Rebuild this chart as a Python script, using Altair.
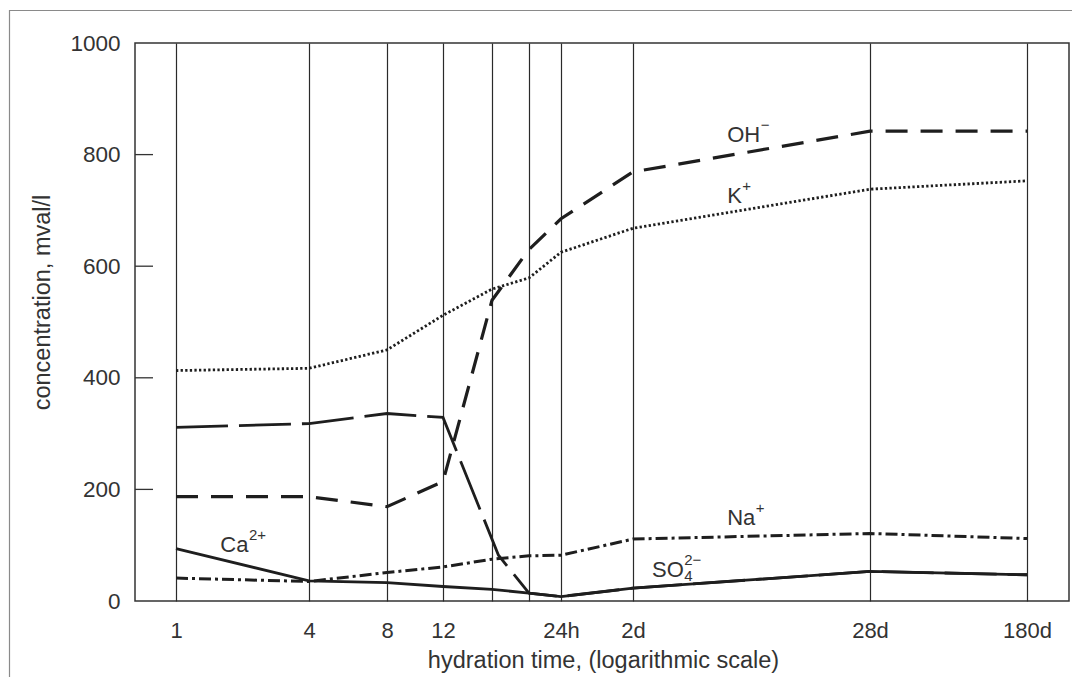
import altair as alt
import pandas as pd

# ---------------- data ----------------
hours = [1, 4, 8, 12, 16, 20, 24, 48, 672, 4320]
oh_vals = [187, 187, 169, 214, 539, 630, 685, 769, 842, 842]
k_vals = [413, 417, 450, 512, 559, 579, 625, 668, 738, 753]
na_vals = [41, 35, 51, 61, 75, 81, 82, 111, 121, 112]
ca_vals = [94, 36, 33, 26, 21, 14, 8, 23, 53, 47]
so4_hours = [1, 4, 8, 12, 16.7, 20, 24, 48, 672, 4320]
so4_vals = [311, 318, 336, 329, 82, 14, 8, 23, 53, 47]

tick_hours = [1, 4, 8, 12, 16, 20, 24, 48, 672, 4320]
tick_labels = ["1", "4", "8", "12", "", "", "24h", "2d", "28d", "180d"]
y_ticks = [0, 200, 400, 600, 800, 1000]
inner_ticks = [200, 400, 600, 800]

label_base = ["OH", "K", "Na", "SO", "Ca"]
label_sup = ["\u2212", "+", "+", "2\u2212", "2+"]
label_sub = ["", "", "", "4", ""]
label_hours = [296, 296, 296, 98, 2.0]
label_values = [823, 713, 136, 43, 88]

# ---------------- styling ----------------
FONT = "Liberation Sans, Arial, sans-serif"
INK = "#1e1e1e"
TXT = "#333"
W, H = 934, 558
LFS = 22      # ion label font size
SFS = 15      # super/subscript font size
# Arial advance widths (em) of the glyphs used in the ion labels
GLYPH_W = {"O": 0.778, "H": 0.722, "K": 0.667, "N": 0.722, "a": 0.556,
           "C": 0.722, "S": 0.667}

# non-uniform ("logarithmic") time axis of the original figure, piecewise linear
x_scale = alt.Scale(
    type="linear",
    domain=[0] + tick_hours + [5500],
    range=[0, 41, 174, 252, 308, 357, 394, 426, 498, 735, 892, W],
    nice=False,
    zero=False,
)
y_scale = alt.Scale(domain=[0, 1000], nice=False)

label_expr = " : ".join(
    f"datum.value == {h} ? '{t}'" for h, t in zip(tick_hours, tick_labels)
) + " : ''"

x_axis = alt.Axis(
    values=tick_hours,
    labelExpr=label_expr,
    grid=True,
    gridColor="#2a2a2a",
    gridWidth=1.2,
    ticks=False,
    tickSize=0,
    domain=False,
    labelFont=FONT,
    labelFontSize=22,
    labelColor=TXT,
    labelPadding=36,
    labelBaseline="alphabetic",
    labelFlush=False,
    labelOverlap=False,
    title="hydration time, (logarithmic scale)",
    titleFont=FONT,
    titleFontSize=23.5,
    titleFontWeight="normal",
    titleColor=TXT,
    titleX=468,
    titleY=66,
    titleAlign="center",
    titleBaseline="alphabetic",
)
y_axis = alt.Axis(
    values=y_ticks,
    format="d",
    grid=False,
    ticks=False,
    tickSize=0,
    domain=False,
    labelFont=FONT,
    labelFontSize=22.5,
    labelColor=TXT,
    labelPadding=15,
    labelBaseline="middle",
    labelFlush=False,
    title="concentration, mval/l",
    titleFont=FONT,
    titleFontSize=23.5,
    titleFontWeight="normal",
    titleColor=TXT,
    titleX=-93,
    titleY=259,
    titleAlign="center",
    titleBaseline="middle",
)

X = alt.X("hour:Q", scale=x_scale, axis=x_axis)
Y = alt.Y("value:Q", scale=y_scale, axis=y_axis)


def series(h, v, name):
    return pd.DataFrame({"hour": h, "value": v, "ion": name})


def line_layer(df, dash, width):
    kw = dict(color=INK, strokeWidth=width, strokeCap="butt", strokeJoin="miter")
    if dash:
        kw["strokeDash"] = dash
    return alt.Chart(df).mark_line(**kw).encode(x=X, y=Y)


ca_line = line_layer(series(hours, ca_vals, "Ca"), None, 2.8)
so4_line = line_layer(series(so4_hours, so4_vals, "SO4"), [52, 11], 2.8)
na_line = line_layer(series(hours, na_vals, "Na"), [12, 4, 3, 4], 3)
k_line = line_layer(series(hours, k_vals, "K"), [2.3, 2.3], 2.8)
oh_line = line_layer(series(hours, oh_vals, "OH"), [22, 13], 3.2)

# inner tick marks on the y axis
tick_layer = alt.Chart(pd.DataFrame({"value": inner_ticks})).mark_rule(
    color="#333", strokeWidth=1.3
).encode(
    x=alt.value(0),
    x2=alt.value(18),
    y=Y,
)

# ion labels: base text + superscript + subscript
label_layers = []
for base, sup, sub, h, v in zip(label_base, label_sup, label_sub, label_hours, label_values):
    df = pd.DataFrame({"hour": [h], "value": [v], "base": [base], "sup": [sup], "sub": [sub]})
    w = sum(GLYPH_W[c] for c in base) * LFS
    label_layers.append(
        alt.Chart(df).mark_text(
            align="left", baseline="alphabetic", font=FONT, fontSize=LFS, color=TXT
        ).encode(x=X, y=Y, text="base:N")
    )
    label_layers.append(
        alt.Chart(df).mark_text(
            align="left", baseline="alphabetic", font=FONT, fontSize=SFS, color=TXT,
            dx=w + 0.5, dy=-12,
        ).encode(x=X, y=Y, text="sup:N")
    )
    if sub:
        label_layers.append(
            alt.Chart(df).mark_text(
                align="left", baseline="alphabetic", font=FONT, fontSize=SFS, color=TXT,
                dx=w + 0.5, dy=4,
            ).encode(x=X, y=Y, text="sub:N")
        )

# outer page frame of the original figure
frame = alt.Chart(pd.DataFrame({"a": [0]})).mark_rect(
    fillOpacity=0, stroke="#8a8a8a", strokeWidth=1.2
).encode(
    x=alt.value(-125.5),
    x2=alt.value(1200),
    y=alt.value(-32.5),
    y2=alt.value(900),
)

chart = (
    alt.layer(frame, tick_layer, ca_line, so4_line, na_line, k_line, oh_line, *label_layers)
    .properties(
        width=W,
        height=H,
        autosize=alt.AutoSizeParams(type="none"),
        padding={"left": 127, "top": 35, "right": 3, "bottom": 76},
        background="white",
    )
    .configure_view(stroke="#333", strokeWidth=1.5)
)

chart.save("out.html", embed_options={"renderer": "svg", "actions": False})
